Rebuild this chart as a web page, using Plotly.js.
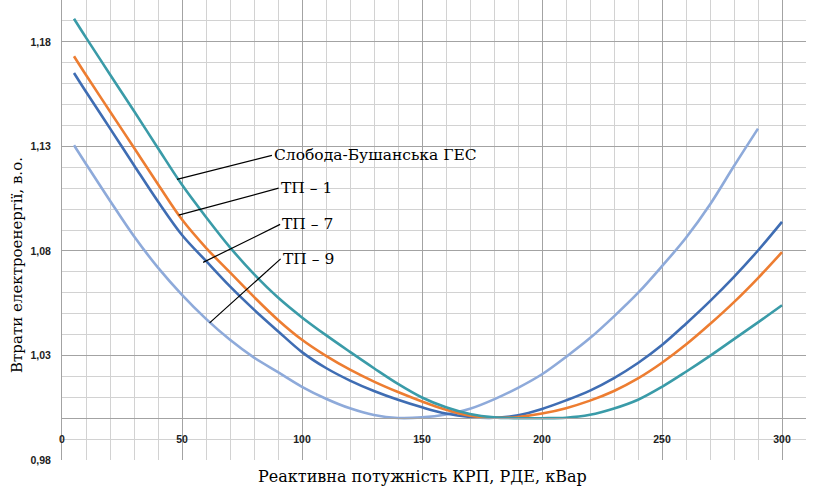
<!DOCTYPE html>
<html><head><meta charset="utf-8">
<script src="https://cdn.plot.ly/plotly-3.0.1.min.js"></script>
<style>html,body{margin:0;padding:0;background:#fff}#chart{width:827px;height:490px}</style>
</head><body><div id="chart"></div>
<script>
// Reactive power of compensating devices, kVar
const reactivePower = [5,10,20,30,40,50,60,70,80,90,100,110,120,130,140,150,160,170,180,190,200,210,220,230,240,250,260,270,280,290,300];
const reactivePowerTP9 = [5,10,20,30,40,50,60,70,80,90,100,110,120,130,140,150,160,170,180,190,200,210,220,230,240,250,260,270,280,290];

// Losses of electric energy, p.u.
const lossesGES = [1.1910,1.1820,1.1644,1.1469,1.1291,1.1116,1.0962,1.0817,1.0689,1.0577,1.0482,1.0397,1.0317,1.0239,1.0164,1.0099,1.0052,1.0020,1.0004,1.0000,1.0000,1.0002,1.0016,1.0046,1.0088,1.0150,1.0222,1.0298,1.0378,1.0458,1.0540];
const lossesTP1 = [1.1731,1.1641,1.1467,1.1293,1.1119,1.0950,1.0815,1.0697,1.0580,1.0470,1.0375,1.0298,1.0232,1.0175,1.0125,1.0080,1.0040,1.0012,1.0002,1.0006,1.0022,1.0048,1.0084,1.0130,1.0190,1.0265,1.0352,1.0450,1.0555,1.0670,1.0794];
const lossesTP7 = [1.1651,1.1561,1.1386,1.1210,1.1036,1.0876,1.0752,1.0630,1.0519,1.0416,1.0316,1.0240,1.0180,1.0130,1.0088,1.0052,1.0022,1.0006,1.0002,1.0014,1.0044,1.0085,1.0132,1.0192,1.0264,1.0350,1.0452,1.0560,1.0676,1.0802,1.0939];
const lossesTP9 = [1.1305,1.1216,1.1040,1.0870,1.0720,1.0590,1.0475,1.0375,1.0290,1.0220,1.0150,1.0093,1.0047,1.0015,1.0001,1.0004,1.0018,1.0045,1.0090,1.0145,1.0210,1.0293,1.0383,1.0487,1.0599,1.0727,1.0863,1.1022,1.1206,1.1385];

const seriesNames = ['Слобода-Бушанська ГЕС', 'ТП – 1', 'ТП – 7', 'ТП – 9'];
const seriesColors = ['#3A9BA8', '#ED7D31', '#3F6DB3', '#8EAADA'];

// label pointer positions (point on curve) and label offsets
const labelPointX = [47.9, 48.6, 58.8, 61.5];
const labelPointY = [1.1142, 1.0971, 1.0745, 1.0456];
const labelOffsetX = [95, 100, 77, 71];
const labelOffsetY = [-24, -27, -38, -64];

const xTitle = 'Реактивна потужність КРП, РДЕ, кВар';
const yTitle = 'Втрати електроенергії, в.о.';

const yMin = 0.98, yMax = 1.20, xCross = 1.0;

const mk = (x, y, i) => ({
  x: x, y: y, name: seriesNames[i], type: 'scatter', mode: 'lines',
  line: {color: seriesColors[i], width: 2.6, shape: 'spline', smoothing: 1},
  hoverinfo: 'x+y+name'
});

const data = [
  mk(reactivePowerTP9, lossesTP9, 3),
  mk(reactivePower, lossesTP7, 2),
  mk(reactivePower, lossesTP1, 1),
  mk(reactivePower, lossesGES, 0)
];

const serif = 'DejaVu Serif, Liberation Serif, serif';
const tickFont = {family: 'Liberation Sans, Arial, sans-serif', size: 10.5, weight: 'bold', color: '#222'};
const majorGrid = '#a3a3a3';
const minorGrid = '#d2d2d2';

const annotations = seriesNames.map((n, i) => ({
  x: labelPointX[i], y: labelPointY[i], xref: 'x', yref: 'y',
  ax: labelOffsetX[i], ay: labelOffsetY[i],
  text: n, showarrow: true, arrowhead: 0, arrowwidth: 1.2, arrowcolor: '#000',
  xanchor: 'left', yanchor: 'middle',
  font: {family: serif, size: 15.5, color: '#000'}
}));
annotations.push({
  xref: 'paper', yref: 'paper', x: 0.485, y: -0.035, xanchor: 'center', yanchor: 'middle',
  showarrow: false, text: xTitle,
  font: {family: serif, size: 16, color: '#000'}
});
annotations.push({
  xref: 'paper', yref: 'paper', x: -0.0605, y: 0.424, xanchor: 'center', yanchor: 'middle',
  showarrow: false, text: yTitle, textangle: -90,
  font: {family: serif, size: 15, color: '#000'}
});

const layout = {
  width: 827, height: 490,
  margin: {l: 62, r: 21, t: 0, b: 30},
  separators: ', ',
  showlegend: false,
  paper_bgcolor: '#fff', plot_bgcolor: '#fff',
  xaxis: {
    range: [0, 310], tick0: 0, dtick: 50,
    anchor: 'free', position: (xCross - yMin) / (yMax - yMin),
    showgrid: true, gridcolor: majorGrid, gridwidth: 1,
    zeroline: false, showline: true, linecolor: majorGrid, linewidth: 1,
    ticks: 'outside', ticklen: 11, tickcolor: 'rgba(0,0,0,0)',
    tickfont: tickFont,
    minor: {dtick: 10, tick0: 0, showgrid: true, gridcolor: minorGrid, gridwidth: 1}
  },
  yaxis: {
    range: [yMin, yMax], tick0: 0.98, dtick: 0.05, tickformat: '.2f',
    showgrid: true, gridcolor: majorGrid, gridwidth: 1,
    zeroline: false, showline: true, linecolor: majorGrid, linewidth: 1,
    ticks: 'outside', ticklen: 8, tickcolor: 'rgba(0,0,0,0)',
    tickfont: tickFont,
    minor: {dtick: 0.01, tick0: 0.98, showgrid: true, gridcolor: minorGrid, gridwidth: 1}
  },
  annotations: annotations
};

Plotly.newPlot('chart', data, layout, {staticPlot: true, displayModeBar: false});
</script>
</body></html>
